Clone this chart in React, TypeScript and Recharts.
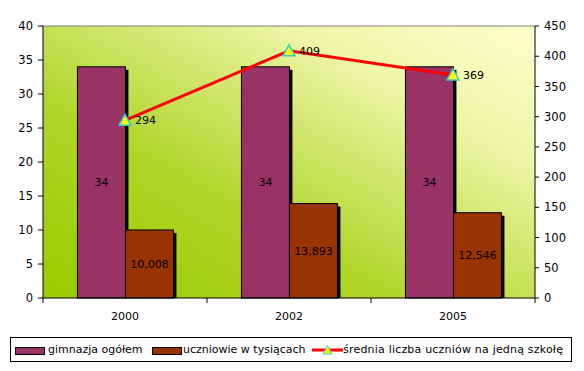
import React from 'react';
import {
  ComposedChart, Bar, Line, XAxis, YAxis, CartesianGrid, LabelList, ReferenceLine,
} from 'recharts';

const categories = ['2000', '2002', '2005'];
const gimnazjaOgolem = [34, 34, 34];
const uczniowieTys = [10.008, 13.893, 12.546];
const sredniaLiczba = [294, 409, 369];
const leftTicks = [0, 5, 10, 15, 20, 25, 30, 35, 40];
const rightTicks = [0, 50, 100, 150, 200, 250, 300, 350, 400, 450];

const seriesNames = ['gimnazja ogółem', 'uczniowie w tysiącach', 'średnia liczba uczniów na jedną szkołę'];

const data = categories.map((c, i) => ({
  year: c,
  g: gimnazjaOgolem[i],
  u: uczniowieTys[i],
  s: sredniaLiczba[i],
}));

const W = 584;
const H = 330;
const LEFT_W = 43;
const RIGHT_W = 49;
const TOP = 26;
const XAXIS_H = 32;
const PLOT_W = W - LEFT_W - RIGHT_W;
const BAND = PLOT_W / categories.length;
const TICK_SIZE = 5;
const TICK_MARGIN = 9;
const FONT = '"DejaVu Sans", Verdana, sans-serif';

const PURPLE = '#993366';
const BROWN = '#993300';

const ShadowBar = (props: any) => {
  const { x, y, width, height, fill } = props;
  if (!height || height <= 0) return null;
  return (
    <g>
      <rect x={x + 3} y={y + 3} width={width} height={Math.max(0, height - 3)} fill="#000" />
      <rect x={x} y={y} width={width} height={height} fill={fill} stroke="#000" strokeWidth={1} />
    </g>
  );
};

const TriangleDot = (props: any) => {
  const { cx, cy } = props;
  if (cx == null || cy == null) return null;
  const s = 6;
  return (
    <polygon
      points={`${cx},${cy - s} ${cx - s},${cy + s - 1} ${cx + s},${cy + s - 1}`}
      fill="#ffff00"
      stroke="#33cccc"
      strokeWidth={1.5}
    />
  );
};

const XTick = (props: any) => {
  const { x, y, payload, index } = props;
  const axisY = y - TICK_SIZE - TICK_MARGIN;
  const half = BAND / 2;
  return (
    <g>
      <line x1={x - half} y1={axisY} x2={x - half} y2={axisY + TICK_SIZE} stroke="#000" />
      {index === categories.length - 1 && (
        <line x1={x + half} y1={axisY} x2={x + half} y2={axisY + TICK_SIZE} stroke="#000" />
      )}
      <text x={x} y={y} dy="0.71em" textAnchor="middle" fontSize={11} fontFamily={FONT} fill="#000">
        {payload.value}
      </text>
    </g>
  );
};

const fmtComma = (v: any) => Number(v).toFixed(3).replace('.', ',');

const Swatch = ({ color, left }: { color: string; left: number }) => (
  <svg width={30} height={8} style={{ position: 'absolute', left, top: 8.5 }}>
    <rect x={0.5} y={0.5} width={29} height={7} fill={color} stroke="#000" strokeWidth={1} />
  </svg>
);

const LineSwatch = ({ left }: { left: number }) => (
  <svg width={31} height={12} style={{ position: 'absolute', left, top: 6 }}>
    <line x1={0} y1={6} x2={31} y2={6} stroke="#ff0000" strokeWidth={3} />
    <polygon points="15.5,1.5 11,10 20,10" fill="#ffff00" stroke="#33cccc" strokeWidth={1} />
  </svg>
);

const LegendText = ({ left, children, spacing }: { left: number; children: any; spacing?: number }) => (
  <span style={{ position: 'absolute', left, top: 4, lineHeight: '16px', letterSpacing: spacing || 0 }}>{children}</span>
);

export default function App() {
  return (
    <div style={{ position: 'absolute', left: 0, top: 0, width: 584, height: 371, background: '#fff' }}>
      <ComposedChart
        width={W}
        height={H}
        data={data}
        margin={{ top: TOP, right: 0, bottom: 0, left: 0 }}
        barCategoryGap="21%"
        barGap={0}
      >
        <defs>
          <linearGradient id="plotBg" x1="0" y1="1" x2="1" y2="0">
            <stop offset="0" stopColor="#99cc00" />
            <stop offset="0.35" stopColor="#aed426" />
            <stop offset="0.75" stopColor="#eef6a8" />
            <stop offset="1" stopColor="#ffffcc" />
          </linearGradient>
        </defs>
        <CartesianGrid fill="url(#plotBg)" horizontal={false} vertical={false} />
        <XAxis
          dataKey="year"
          height={XAXIS_H}
          axisLine={{ stroke: '#000' }}
          tickLine={false}
          tickSize={TICK_SIZE}
          tickMargin={TICK_MARGIN}
          tick={<XTick />}
          interval={0}
        />
        <YAxis
          yAxisId="left"
          width={LEFT_W}
          domain={[0, 40]}
          ticks={leftTicks}
          interval={0}
          axisLine={{ stroke: '#000' }}
          tickLine={{ stroke: '#000' }}
          tickSize={5}
          tickMargin={5}
          tick={{ fontSize: 11.5, fontFamily: FONT, fill: '#000' }}
        />
        <YAxis
          yAxisId="right"
          orientation="right"
          width={RIGHT_W}
          domain={[0, 450]}
          ticks={rightTicks}
          interval={0}
          axisLine={{ stroke: '#000' }}
          tickLine={{ stroke: '#000' }}
          tickSize={4}
          tickMargin={5}
          tick={{ fontSize: 11.5, fontFamily: FONT, fill: '#000' }}
        />
        <ReferenceLine yAxisId="left" y={40} stroke="#808080" strokeWidth={1} />
        <Bar yAxisId="left" dataKey="g" name={seriesNames[0]} fill={PURPLE} shape={<ShadowBar />} isAnimationActive={false}>
          <LabelList dataKey="g" position="center" fill="#000" fontSize={11} fontFamily={FONT} />
        </Bar>
        <Bar yAxisId="left" dataKey="u" name={seriesNames[1]} fill={BROWN} shape={<ShadowBar />} isAnimationActive={false}>
          <LabelList dataKey="u" position="center" formatter={fmtComma} fill="#000" fontSize={11} fontFamily={FONT} />
        </Bar>
        <Line
          yAxisId="right"
          dataKey="s"
          name={seriesNames[2]}
          stroke="#ff0000"
          strokeWidth={3}
          dot={<TriangleDot />}
          activeDot={false}
          isAnimationActive={false}
        >
          <LabelList dataKey="s" position="right" offset={10} fill="#000" fontSize={11} fontFamily={FONT} />
        </Line>
      </ComposedChart>
      <div
        style={{
          position: 'absolute',
          left: 10,
          top: 337,
          width: 562,
          height: 25,
          border: '1px solid #000',
          boxSizing: 'border-box',
          fontFamily: FONT,
          fontSize: 11,
          color: '#000',
          whiteSpace: 'nowrap',
        }}
      >
        <Swatch color={PURPLE} left={4} />
        <LegendText left={37}>{seriesNames[0]}</LegendText>
        <Swatch color={BROWN} left={141} />
        <LegendText left={172}>{seriesNames[1]}</LegendText>
        <LineSwatch left={301} />
        <LegendText left={332} spacing={0.2}>{seriesNames[2]}</LegendText>
      </div>
    </div>
  );
}
